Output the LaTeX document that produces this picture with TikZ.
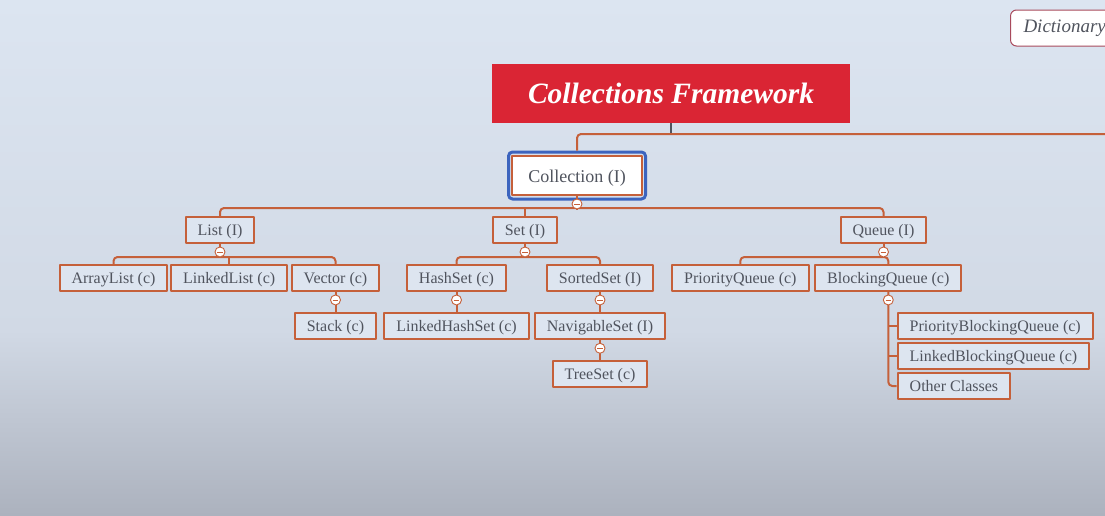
\documentclass[tikz,border=0pt]{standalone}
\usepackage{fontspec}
\setmainfont{Liberation Serif}
\usetikzlibrary{positioning}
\definecolor{bgtop}{RGB}{220,229,241}
\definecolor{bgmid}{RGB}{209,217,229}
\definecolor{bgbot}{RGB}{172,178,190}
\definecolor{edge}{RGB}{197,96,58}
\definecolor{boxfill}{RGB}{221,229,240}
\definecolor{ink}{RGB}{80,84,94}
\definecolor{titlered}{RGB}{218,37,52}
\definecolor{selblue}{RGB}{60,100,190}
\definecolor{dictedge}{RGB}{168,74,92}
\tikzset{
  box/.style={draw=edge,fill=boxfill,line width=2pt,inner xsep=12pt,inner ysep=0pt,
    minimum height=26pt,text height=12pt,text depth=1pt,text=ink,font=\fontsize{16}{18}\selectfont},
  link/.style={draw=edge,line width=2pt,rounded corners=4pt},
  knob/.style={circle,draw=edge,fill=white,line width=.9pt,minimum size=10pt,inner sep=0pt,
    path picture={\draw[edge,line width=.9pt]
      ([xshift=-2.8pt]path picture bounding box.center)--([xshift=2.8pt]path picture bounding box.center);}}
}
\begin{document}
\begin{tikzpicture}[x=1pt,y=-1pt,line join=round]
  \useasboundingbox (0,0) rectangle (1105,515);
  \clip (0,0) rectangle (1105,515);
  \shade[top color=bgtop,bottom color=bgmid] (0,0) rectangle (1105,331);
  \shade[top color=bgmid,bottom color=bgbot] (0,330) rectangle (1105,515);

  % top level
  \node (title) at (671,93.5)[fill=titlered,minimum width=358pt,minimum height=59pt,text=white,
    font=\fontsize{29.5}{32}\selectfont\bfseries\itshape]{Collections Framework};
  \node (dict) at (1010,28)[anchor=west,draw=dictedge,fill=white,line width=1pt,rounded corners=6pt,
    minimum height=36pt,inner xsep=13pt,text=ink,font=\fontsize{19}{21}\selectfont\itshape]{Dictionary};
  \coordinate (rim) at (1105,134);
  \node (collsel) at (577,175.5)[draw=selblue,line width=3pt,rounded corners=4pt,minimum width=137pt,minimum height=47pt]{};
  \node (coll) at (577,175.5)[box,fill=white,minimum width=130pt,minimum height=39pt,
    text height=14pt,font=\fontsize{18}{20}\selectfont]{Collection (I)};
  \draw[ink,line width=2pt] (title.south) -- (title.south |- rim);
  \draw[link] (collsel.north) |- (rim);

  % interfaces
  \node (list) at (220,230)[box]{List (I)};
  \node (set) at (525,230)[box]{Set (I)};
  \node (queue) at (883.5,230)[box]{Queue (I)};
  \draw[link] (list.north) -- ++(0,-8) -| (queue.north);
  \draw[link] (set.north) -- ++(0,-8);
  \draw[link] (coll.south) -- ++(0,14);

  % second row
  \node (arraylist) at (113.5,278)[box]{ArrayList (c)};
  \node (linkedlist) at (229.2,278)[box]{LinkedList (c)};
  \node (vector) at (335.5,278)[box]{Vector (c)};
  \node (hashset) at (456.5,278)[box]{HashSet (c)};
  \node (sortedset) at (600,278)[box]{SortedSet (I)};
  \node (prioq) at (740.3,278)[box]{PriorityQueue (c)};
  \node (blockq) at (888.3,278)[box]{BlockingQueue (c)};
  \draw[link] (arraylist.north) -- ++(0,-7) -| (vector.north);
  \draw[link] (linkedlist.north) -- ++(0,-7);
  \draw[link] (list.south) -- ++(0,14);
  \draw[link] (hashset.north) -- ++(0,-7) -| (sortedset.north);
  \draw[link] (set.south) -- ++(0,14);
  \draw[link] (prioq.north) -- ++(0,-7) -| (blockq.north);
  \draw[link] (queue.south) -- ++(0,14);

  % third row
  \node (stack) at (335.5,326.3)[box]{Stack (c)};
  \node (lhset) at (456.5,326.3)[box]{LinkedHashSet (c)};
  \node (navset) at (600,326.3)[box]{NavigableSet (I)};
  \node (treeset) at (600,374)[box]{TreeSet (c)};
  \draw[link] (vector) -- (stack);
  \draw[link] (hashset) -- (lhset);
  \draw[link] (sortedset) -- (navset);
  \draw[link] (navset) -- (treeset);

  % blocking queues
  \node (pbq) at (896.7,325.5)[box,anchor=west]{PriorityBlockingQueue (c)};
  \node (lbq) at (896.7,355.5)[box,anchor=west]{LinkedBlockingQueue (c)};
  \node (other) at (896.7,386)[box,anchor=west]{Other Classes};
  \draw[link] (blockq.south) |- (other.west);
  \draw[link] (pbq.west) -- (pbq.west -| blockq.south);
  \draw[link] (lbq.west) -- (lbq.west -| blockq.south);

  % collapse knobs
  \node[knob,below=2.5pt of coll]{};
  \node[knob,below=2.5pt of list]{};
  \node[knob,below=2.5pt of set]{};
  \node[knob,below=2.5pt of queue]{};
  \node[knob,below=2.5pt of vector]{};
  \node[knob,below=2.5pt of hashset]{};
  \node[knob,below=2.5pt of sortedset]{};
  \node[knob,below=2.5pt of blockq]{};
  \node[knob,below=2.5pt of navset]{};
\end{tikzpicture}
\end{document}
